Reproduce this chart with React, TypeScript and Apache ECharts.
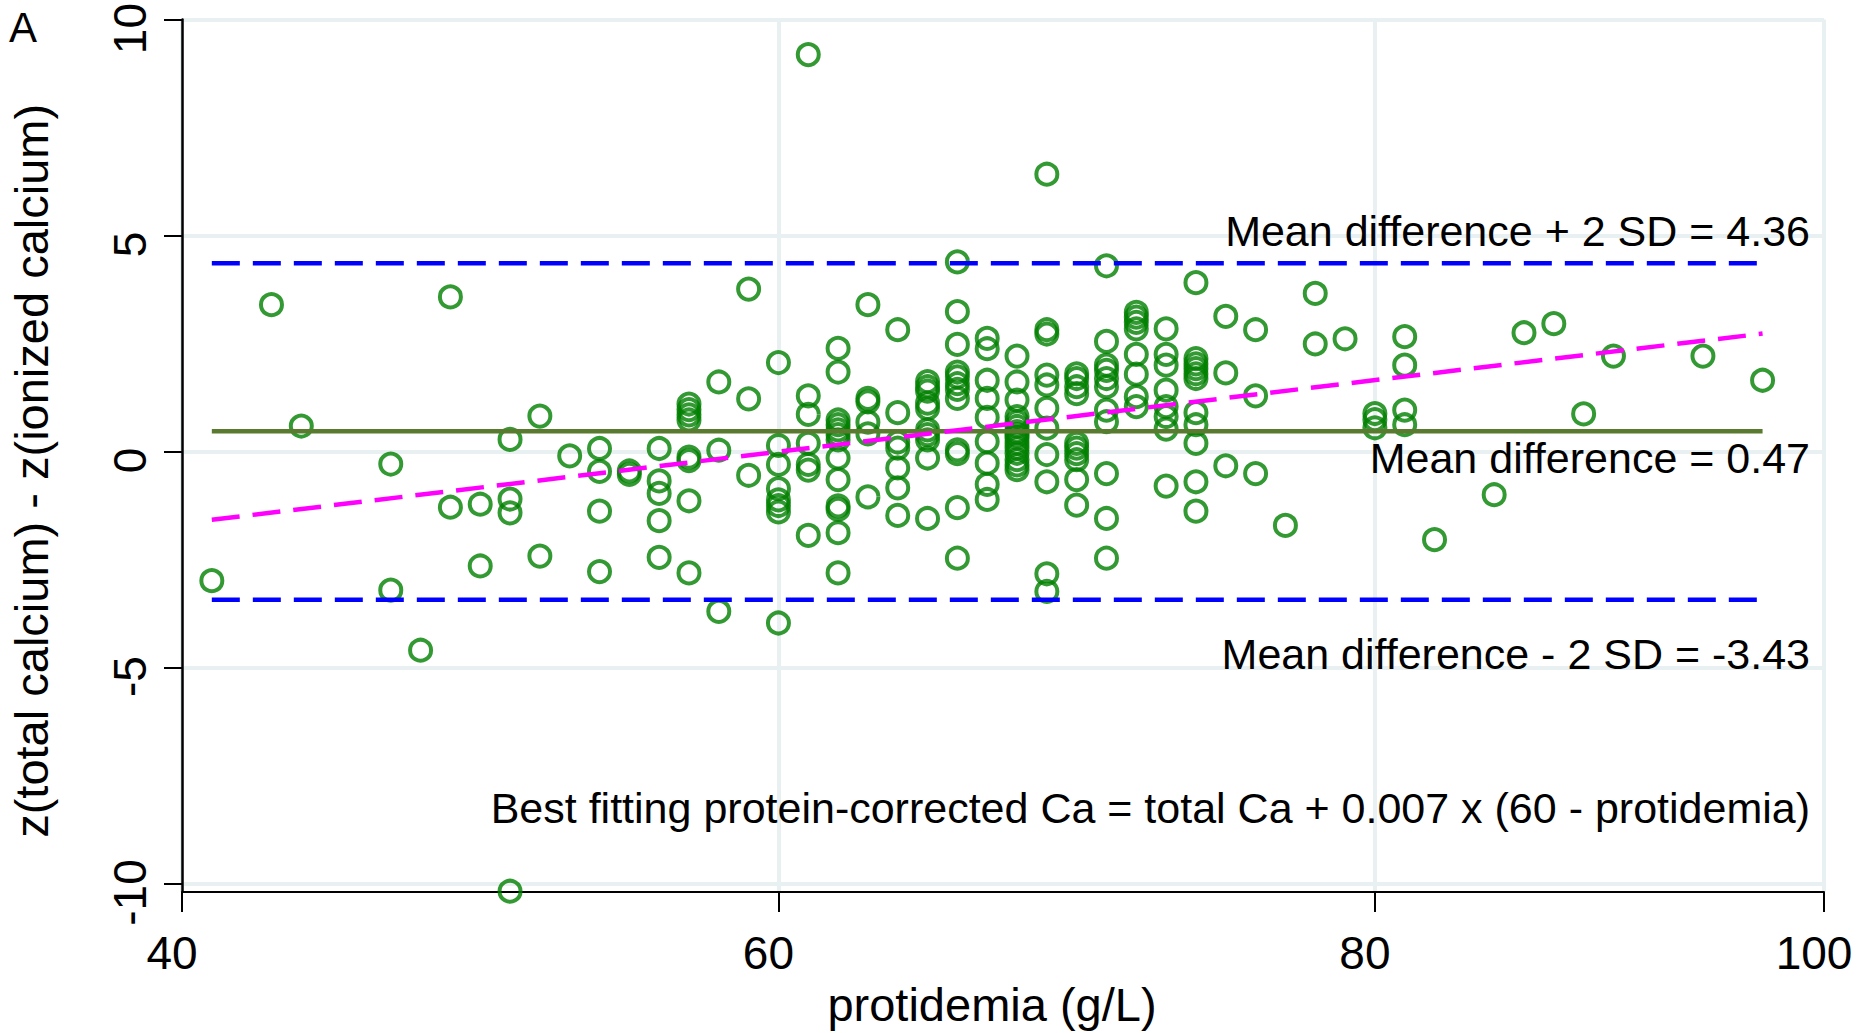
import React, { useEffect, useRef } from "react";
import * as echarts from "echarts";

// ---------- data ----------
// protidemia (g/L) values that carry at least one observation
const protidemiaLevels = [
  41, 43, 44, 47, 48, 49, 50, 51, 52, 53, 54, 55, 56, 57, 58, 59, 60, 61, 62, 63,
  64, 65, 66, 67, 68, 69, 70, 71, 72, 73, 74, 75, 76, 77, 78, 79, 80, 81, 82, 84,
  85, 86, 87, 88, 91, 93,
];
// z(total calcium) - z(ionized calcium) for each protidemia level above
const zDifferenceByLevel = [
  [-2.99],
  [3.4],
  [0.59],
  [-0.29, -3.21],
  [-4.6],
  [3.58, -1.29],
  [-1.22, -2.65],
  [0.28, -1.1, -1.42, -10.18],
  [0.82, -2.42],
  [-0.1],
  [0.07, -0.46, -1.38, -2.78],
  [-0.45, -0.53],
  [0.07, -0.68, -0.97, -1.6, -2.45],
  [1.1, 0.97, 0.85, 0.73, -0.13, -0.21, -1.14, -2.81],
  [1.61, 0.03, -3.7],
  [3.76, 1.22, -0.55],
  [2.06, 0.14, -0.3, -0.86, -1.12, -1.25, -1.4, -3.97],
  [9.19, 1.29, 0.86, 0.19, -0.3, -0.43, -1.94],
  [2.39, 1.84, 0.73, 0.62, 0.5, 0.39, 0.27, -0.15, -0.65, -1.26, -1.34, -1.88, -2.81],
  [3.4, 1.23, 1.15, 0.68, 0.41, -1.05],
  [2.82, 0.9, 0.22, 0.08, -0.38, -0.84, -1.48],
  [1.62, 1.5, 1.4, 1.12, 1.0, 0.5, 0.39, 0.27, -0.15, -1.55],
  [4.39, 3.24, 2.48, 1.84, 1.73, 1.57, 1.44, 1.23, 0.04, -0.05, -1.3, -2.47],
  [2.62, 2.38, 1.65, 1.23, 0.79, 0.23, -0.27, -0.76, -1.11],
  [2.21, 1.61, 1.19, 0.81, 0.69, 0.58, 0.46, 0.39, 0.31, 0.19, 0.08, -0.04, -0.19, -0.31, -0.42],
  [6.42, 2.82, 2.72, 1.77, 1.54, 1.0, 0.54, -0.07, -0.7, -2.83, -3.24],
  [1.8, 1.69, 1.5, 1.34, 0.19, 0.08, -0.05, -0.19, -0.65, -1.24],
  [4.3, 2.55, 2.0, 1.88, 1.69, 1.5, 0.96, 0.69, -0.51, -1.55, -2.47],
  [3.22, 3.11, 2.99, 2.84, 2.25, 1.79, 1.27, 1.04],
  [2.84, 2.25, 2.0, 1.42, 1.04, 0.81, 0.52, -0.8],
  [3.91, 2.15, 2.03, 1.92, 1.8, 1.69, 0.9, 0.62, 0.19, -0.7, -1.38],
  [3.13, 1.82, -0.33],
  [2.82, 1.29, -0.51],
  [-1.71],
  [3.66, 2.49],
  [2.61],
  [0.88, 0.74, 0.55],
  [2.66, 2.0, 0.96, 0.62],
  [-2.04],
  [-1.0],
  [2.75],
  [2.96],
  [0.87],
  [2.21],
  [2.21],
  [1.65],
];

// summary statistics shown on the chart
const meanDifference = 0.47;
const upperLimit = 4.36; // mean + 2 SD
const lowerLimit = -3.43; // mean - 2 SD
const lineRange = [41, 93]; // protidemia extent of the reference lines
const fitLineX = [41, 93];
const fitLineY = [-1.58, 2.73];

// axes
const xTickValues = [40, 60, 80, 95.06];
const xTickLabels = ["40", "60", "80", "100"];
const yTickValues = [-10, -5, 0, 5, 10];
const yTickLabels = ["-10", "-5", "0", "5", "10"];

const FONT = '"Liberation Sans", Arial, Helvetica, sans-serif';
const GRID_COLOR = "#e8f0f1";

export default function App() {
  const ref = useRef<HTMLDivElement>(null);

  useEffect(() => {
    if (!ref.current) return;
    const chart = echarts.init(ref.current, null, { renderer: "svg" });

    const points: number[][] = [];
    protidemiaLevels.forEach((x, i) => {
      zDifferenceByLevel[i].forEach((y) => points.push([x, y]));
    });

    const hLine = (v: number) => [
      [lineRange[0], v],
      [lineRange[1], v],
    ];

    const annotation = (text: string, x: number, y: number, align: string, size: number) => ({
      type: "text",
      x,
      y,
      z: 100,
      zlevel: 0,
      silent: true,
      style: {
        text,
        fill: "#000",
        font: `${size}px ${FONT}`,
        textAlign: align,
        textVerticalAlign: "middle",
        align,
        verticalAlign: "middle",
      },
    });

    chart.setOption({
      animation: false,
      backgroundColor: "#ffffff",
      textStyle: { fontFamily: FONT },
      grid: { left: 179, top: 17, width: 1645, height: 879, containLabel: false },
      xAxis: {
        type: "value",
        min: xTickValues[0],
        max: xTickValues[xTickValues.length - 1],
        interval: 20,
        name: "protidemia (g/L)",
        nameLocation: "middle",
        nameGap: 81,
        nameTextStyle: { fontSize: 47, color: "#000", fontFamily: FONT, padding: [0, 22, 0, 0] },
        axisLine: { show: true, onZero: false, lineStyle: { color: "#000", width: 2 } },
        axisTick: { show: true, length: 20, lineStyle: { color: "#000", width: 2 } },
        axisLabel: {
          show: true,
          fontSize: 46,
          color: "#000",
          fontFamily: FONT,
          margin: 38,
          padding: [0, 20, 0, 0],
          showMinLabel: true,
          showMaxLabel: true,
          formatter: (v: number) => {
            const i = xTickValues.findIndex((t) => Math.abs(t - v) < 1e-6);
            return i >= 0 ? xTickLabels[i] : "";
          },
        },
        splitLine: { show: true, lineStyle: { color: GRID_COLOR, width: 4 } },
      },
      yAxis: {
        type: "value",
        min: -10.2,
        max: 10,
        name: "z(total calcium) - z(ionized calcium)",
        nameLocation: "middle",
        nameGap: 127,
        nameTextStyle: { fontSize: 47, color: "#000", fontFamily: FONT, padding: [0, 30, 0, 0] },
        axisLine: { show: true, onZero: false, lineStyle: { color: "#000", width: 2.5 } },
        axisTick: {
          show: true,
          length: 18,
          customValues: yTickValues,
          lineStyle: { color: "#000", width: 2 },
        },
        axisLabel: {
          show: true,
          rotate: 90,
          fontSize: 46,
          color: "#000",
          fontFamily: FONT,
          margin: 29,
          padding: [0, 18, 0, 0],
          customValues: yTickValues,
          formatter: (v: number) => {
            const i = yTickValues.findIndex((t) => Math.abs(t - v) < 1e-6);
            return i >= 0 ? yTickLabels[i] : "";
          },
        },
        splitLine: { show: true, lineStyle: { color: GRID_COLOR, width: 4 } },
      },
      series: [
        {
          type: "scatter",
          data: points,
          clip: false,
          symbol: "circle",
          symbolSize: 21,
          itemStyle: { color: "rgba(0,0,0,0)", borderColor: "#008000", borderWidth: 4 },
          z: 2,
        },
        {
          type: "line",
          data: hLine(upperLimit),
          symbol: "none",
          lineStyle: { color: "#0000ff", width: 4.5, type: [28, 13] },
          z: 3,
        },
        {
          type: "line",
          data: hLine(lowerLimit),
          symbol: "none",
          lineStyle: { color: "#0000ff", width: 4.5, type: [28, 13] },
          z: 3,
        },
        {
          type: "line",
          data: hLine(meanDifference),
          symbol: "none",
          lineStyle: { color: "#5a7a30", width: 4.5 },
          z: 3,
        },
        {
          type: "line",
          data: fitLineX.map((x, i) => [x, fitLineY[i]]),
          symbol: "none",
          lineStyle: { color: "#ff00ff", width: 4.5, type: [28, 13] },
          z: 4,
        },
      ],
      graphic: [
        annotation(`Mean difference + 2 SD = ${upperLimit.toFixed(2)}`, 1810, 231, "right", 43),
        annotation(`Mean difference = ${meanDifference.toFixed(2)}`, 1810, 458, "right", 43),
        annotation(`Mean difference - 2 SD = ${lowerLimit.toFixed(2)}`, 1810, 654, "right", 43),
        annotation(
          "Best fitting protein-corrected Ca = total Ca + 0.007 x (60 - protidemia)",
          1810,
          808,
          "right",
          43
        ),
        annotation("A", 9, 27, "left", 42),
      ],
    });

    return () => chart.dispose();
  }, []);

  return (
    <div
      ref={ref}
      style={{ position: "fixed", left: 0, top: 0, width: 1865, height: 1033, background: "#fff" }}
    />
  );
}
